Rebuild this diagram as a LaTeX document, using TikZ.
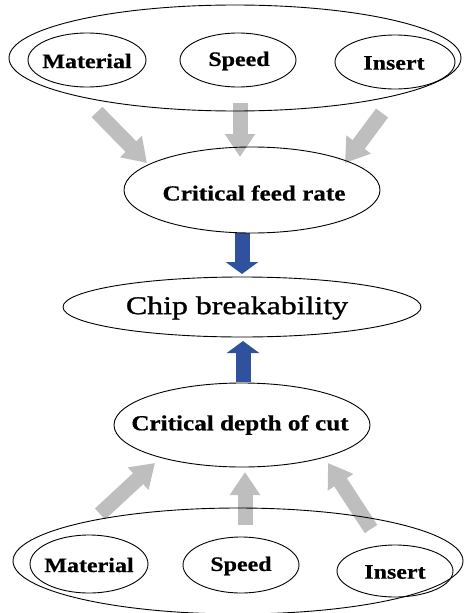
\documentclass[tikz,border=0pt]{standalone}
\usepackage{fontspec}
\setmainfont{Liberation Serif}
\newfontfamily\labfont[FakeStretch=1.17,FakeBold=0.6]{Liberation Serif}
\newfontfamily\chipfont[FakeStretch=1.25,FakeBold=1.2]{Liberation Serif}
\usetikzlibrary{arrows.meta}
\definecolor{arrowgrey}{RGB}{190,190,190}
\definecolor{arrowblue}{RGB}{48,82,158}
\tikzset{
  oval/.style={draw=black, line width=0.9pt, fill=none},
  lbl/.style={font=\labfont\bfseries\fontsize{20.5}{22}\selectfont, inner sep=0pt},
  biglbl/.style={font=\labfont\bfseries\fontsize{21.5}{23}\selectfont, inner sep=0pt},
  chiplbl/.style={font=\chipfont\fontsize{25.5}{28}\selectfont, inner sep=0pt},
  greyarrow/.style={draw=arrowgrey, line width=15pt, -{Triangle[length=23pt,width=29pt]}},
  bluearrow/.style={draw=arrowblue, line width=15pt, -{Triangle[length=12pt,width=32pt]}},
}
\begin{document}
\begin{tikzpicture}[x=1pt,y=-1pt]
\useasboundingbox (0,0) rectangle (464,613);
% arrow endpoints
\coordinate (ta1) at (97,112);  \coordinate (tb1) at (147,163);
\coordinate (ta2) at (240,103); \coordinate (tb2) at (240,157);
\coordinate (ta3) at (382,113); \coordinate (tb3) at (345,163);
\coordinate (ba1) at (100,514); \coordinate (bb1) at (155,463);
\coordinate (ba2) at (245,525); \coordinate (bb2) at (245,472);
\coordinate (ba3) at (371,529); \coordinate (bb3) at (328,463);
\coordinate (ua) at (242,233); \coordinate (ub) at (242,274);
\coordinate (la) at (243,382); \coordinate (lb) at (243,341);
\draw[greyarrow] (ta1) -- (tb1);
\draw[greyarrow] (ta2) -- (tb2);
\draw[greyarrow] (ta3) -- (tb3);
\draw[greyarrow] (ba1) -- (bb1);
\draw[greyarrow] (ba2) -- (bb2);
\draw[greyarrow] (ba3) -- (bb3);
\draw[bluearrow] (ua) -- (ub);
\draw[bluearrow] (la) -- (lb);
% top group
\draw[oval] (235,58) ellipse [x radius=226, y radius=53];
\draw[oval] (87,60) ellipse [x radius=59, y radius=27];
\draw[oval] (238,60) ellipse [x radius=58, y radius=27];
\draw[oval] (395,62) ellipse [x radius=60, y radius=27];
\node[lbl] (m1) at (87,61) {Material};
\node[lbl] (s1) at (239,61) {Speed};
\node[lbl] (i1) at (394,63) {Insert};
% critical feed rate
\draw[oval] (252,190) ellipse [x radius=128, y radius=43];
\node[biglbl] (cfr) at (254,193) {Critical feed rate};
% chip breakability
\draw[oval] (242,307) ellipse [x radius=179, y radius=30];
\node[chiplbl] (chip) at (237,308) {Chip breakability};
% critical depth of cut
\draw[oval] (242,425) ellipse [x radius=128, y radius=42];
\node[biglbl] (cdc) at (240,425) {Critical depth of cut};
% bottom group
\draw[oval] (238,561) ellipse [x radius=225, y radius=53];
\draw[oval] (89,564) ellipse [x radius=59, y radius=29];
\draw[oval] (241,565) ellipse [x radius=58, y radius=28];
\draw[oval] (395,571) ellipse [x radius=58, y radius=26];
\node[lbl] (m2) at (89,565) {Material};
\node[lbl] (s2) at (241,566) {Speed};
\node[lbl] (i2) at (395,572) {Insert};
\end{tikzpicture}
\end{document}
